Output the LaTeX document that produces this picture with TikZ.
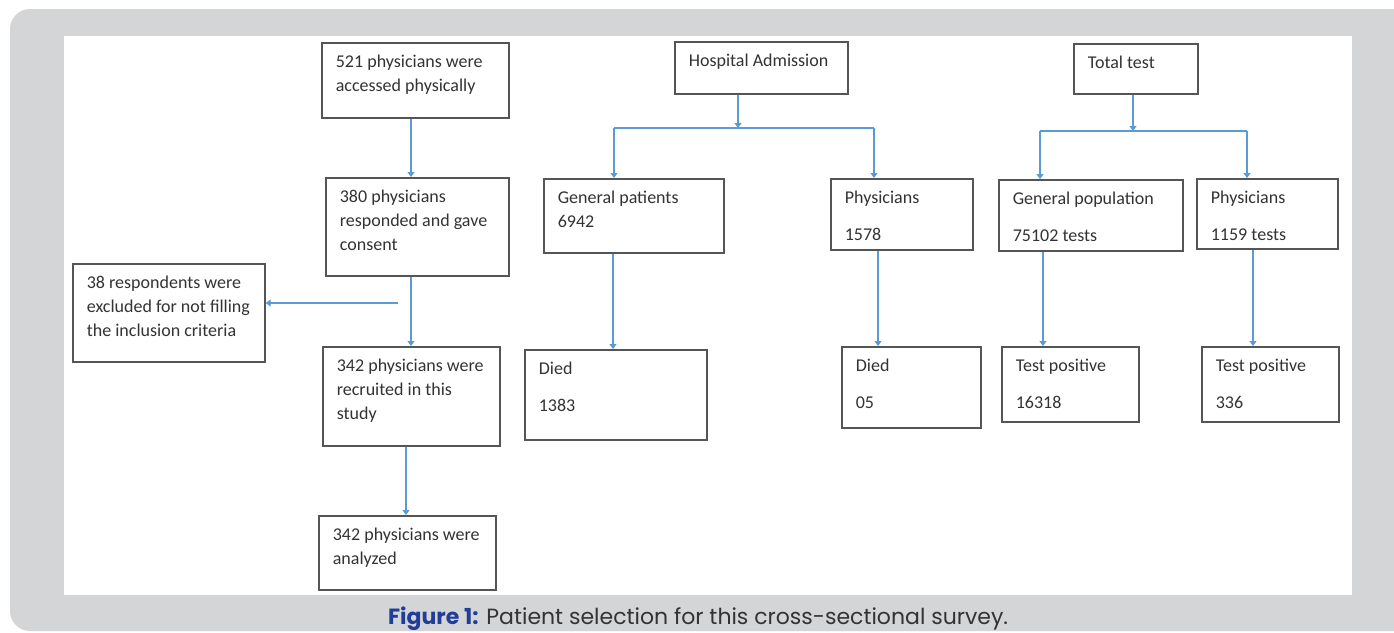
\documentclass[tikz,border=0pt]{standalone}
\usepackage{fontspec}
\setmainfont{Carlito}
\newfontfamily\capfont{Poppins}
\usetikzlibrary{arrows.meta}
\definecolor{bggray}{HTML}{D4D5D7}
\definecolor{boxline}{HTML}{555555}
\definecolor{arrowblue}{HTML}{5B9BD5}
\definecolor{txtgray}{HTML}{333333}
\definecolor{figblue}{HTML}{1F3D99}
\newcommand\bxt[3]{\parbox[c][#2][t]{#1}{\fontsize{18}{24}\selectfont\raggedright\setlength\leftskip{14pt}\vspace*{8pt}\strut #3}}
\tikzset{
  box/.style={draw=boxline, line width=1.7pt, inner sep=0pt, anchor=north west, text=txtgray},
  arr/.style={draw=arrowblue, line width=1.1pt, -{Triangle[width=7pt,length=5pt]}},
  ln/.style={draw=arrowblue, line width=1.1pt},
}
\begin{document}
\begin{tikzpicture}[x=1pt,y=-1pt]
\useasboundingbox (0,0) rectangle (1394,632);
\fill[white] (0,0) rectangle (1394,632);
\fill[bggray, rounded corners=20pt] (10,9) rectangle (1430,631);
\fill[white] (64,36) rectangle (1352,595);

% left column
\node[box] (a) at (321,42) {\bxt{187pt}{75pt}{521 physicians were\\accessed physically}};
\node[box] (b) at (325,177) {\bxt{183pt}{98pt}{380 physicians\\responded and gave\\consent}};
\node[box] (c) at (72,263) {\bxt{192pt}{98pt}{38 respondents were\\excluded for not filling\\the inclusion criteria}};
\node[box] (d) at (322,346) {\bxt{177pt}{99pt}{342 physicians were\\recruited in this\\study}};
\node[box] (e) at (318,515) {\bxt{177pt}{74pt}{342 physicians were\\analyzed}};

% middle
\node[box] (h) at (674,41) {\bxt{173pt}{52pt}{Hospital Admission}};
\node[box] (gp) at (543,178) {\bxt{180pt}{74pt}{General patients\\6942}};
\node[box] (p1) at (830,178) {\bxt{142pt}{71pt}{Physicians\\[13pt]1578}};
\node[box] (d1) at (524,349) {\bxt{182pt}{90pt}{Died\\[13pt]1383}};
\node[box] (d2) at (841,346) {\bxt{139pt}{81pt}{Died\\[13pt]05}};

% right
\node[box] (t) at (1073,43) {\bxt{124pt}{50pt}{Total test}};
\node[box] (gpop) at (998,179) {\bxt{184pt}{71pt}{General population\\[13pt]75102 tests}};
\node[box] (p2) at (1196,178) {\bxt{141pt}{70pt}{Physicians\\[13pt]1159 tests}};
\node[box] (tp1) at (1001,346) {\bxt{137pt}{75pt}{Test positive\\[13pt]16318}};
\node[box] (tp2) at (1201,346) {\bxt{137pt}{75pt}{Test positive\\[13pt]336}};

% left connectors
\coordinate (xa) at (411,0);
\coordinate (xe) at (406,0);
\coordinate (br) at (398,303);
\draw[arr] (xa |- a.south) -- (xa |- b.north);
\draw[arr] (xa |- b.south) -- (xa |- d.north);
\draw[arr] (br) -- (br -| c.east);
\draw[arr] (xe |- d.south) -- (xe |- e.north);

% middle connectors
\coordinate (hb) at (738,128);
\coordinate (gb) at (614,128);
\coordinate (pb) at (874,128);
\draw[arr] (hb |- h.south) -- (hb);
\draw[ln] (gb) -- (pb);
\draw[arr] (gb) -- (gb |- gp.north);
\draw[arr] (pb) -- (pb |- p1.north);
\coordinate (xg) at (613,0);
\coordinate (xp) at (878,0);
\draw[arr] (xg |- gp.south) -- (xg |- d1.north);
\draw[arr] (xp |- p1.south) -- (xp |- d2.north);

% right connectors
\coordinate (tb) at (1133,131);
\coordinate (gob) at (1040,131);
\coordinate (p2b) at (1247,131);
\draw[arr] (tb |- t.south) -- (tb);
\draw[ln] (gob) -- (p2b);
\draw[arr] (gob) -- (gob |- gpop.north);
\draw[arr] (p2b) -- (p2b |- p2.north);
\coordinate (xgo) at (1043,0);
\coordinate (xp2) at (1253,0);
\draw[arr] (xgo |- gpop.south) -- (xgo |- tp1.north);
\draw[arr] (xp2 |- p2.south) -- (xp2 |- tp2.north);

% caption
\node[anchor=base west, inner sep=0pt, text=txtgray, font=\capfont\fontsize{22}{26}\selectfont] (cap) at (388,624) {\textcolor{figblue}{\bfseries Figure 1:} Patient selection for this cross-sectional survey.};
\end{tikzpicture}
\end{document}
